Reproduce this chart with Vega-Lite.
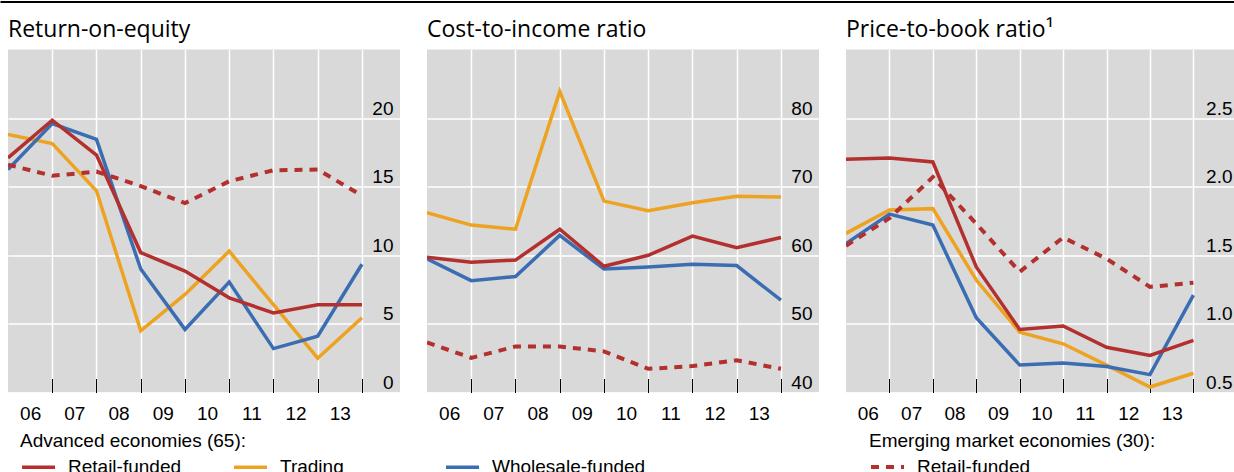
{
  "$schema": "https://vega.github.io/schema/vega-lite/v6.json",
  "padding": {"left": 0, "top": 1.5, "right": 0, "bottom": 0},
  "background": "white",
  "data": {"values": [
    {"p":"roe","g":"AE","s":"Trading","t":0,"v":18.8},{"p":"roe","g":"AE","s":"Trading","t":1,"v":18.15},{"p":"roe","g":"AE","s":"Trading","t":2,"v":14.7},{"p":"roe","g":"AE","s":"Trading","t":3,"v":4.5},{"p":"roe","g":"AE","s":"Trading","t":4,"v":7.15},{"p":"roe","g":"AE","s":"Trading","t":5,"v":10.3},{"p":"roe","g":"AE","s":"Trading","t":6,"v":6.4},{"p":"roe","g":"AE","s":"Trading","t":7,"v":2.5},{"p":"roe","g":"AE","s":"Trading","t":8,"v":5.45},
    {"p":"roe","g":"AE","s":"Wholesale-funded","t":0,"v":16.25},{"p":"roe","g":"AE","s":"Wholesale-funded","t":1,"v":19.6},{"p":"roe","g":"AE","s":"Wholesale-funded","t":2,"v":18.45},{"p":"roe","g":"AE","s":"Wholesale-funded","t":3,"v":9.0},{"p":"roe","g":"AE","s":"Wholesale-funded","t":4,"v":4.6},{"p":"roe","g":"AE","s":"Wholesale-funded","t":5,"v":8.05},{"p":"roe","g":"AE","s":"Wholesale-funded","t":6,"v":3.2},{"p":"roe","g":"AE","s":"Wholesale-funded","t":7,"v":4.1},{"p":"roe","g":"AE","s":"Wholesale-funded","t":8,"v":9.35},
    {"p":"roe","g":"AE","s":"Retail-funded","t":0,"v":17.1},{"p":"roe","g":"AE","s":"Retail-funded","t":1,"v":19.85},{"p":"roe","g":"AE","s":"Retail-funded","t":2,"v":17.3},{"p":"roe","g":"AE","s":"Retail-funded","t":3,"v":10.2},{"p":"roe","g":"AE","s":"Retail-funded","t":4,"v":8.85},{"p":"roe","g":"AE","s":"Retail-funded","t":5,"v":6.9},{"p":"roe","g":"AE","s":"Retail-funded","t":6,"v":5.8},{"p":"roe","g":"AE","s":"Retail-funded","t":7,"v":6.4},{"p":"roe","g":"AE","s":"Retail-funded","t":8,"v":6.4},
    {"p":"roe","g":"EM","s":"Retail-funded","t":0,"v":16.6},{"p":"roe","g":"EM","s":"Retail-funded","t":1,"v":15.8},{"p":"roe","g":"EM","s":"Retail-funded","t":2,"v":16.1},{"p":"roe","g":"EM","s":"Retail-funded","t":3,"v":15.05},{"p":"roe","g":"EM","s":"Retail-funded","t":4,"v":13.8},{"p":"roe","g":"EM","s":"Retail-funded","t":5,"v":15.4},{"p":"roe","g":"EM","s":"Retail-funded","t":6,"v":16.2},{"p":"roe","g":"EM","s":"Retail-funded","t":7,"v":16.25},{"p":"roe","g":"EM","s":"Retail-funded","t":8,"v":14.35},
    {"p":"cir","g":"AE","s":"Trading","t":0,"v":66.2},{"p":"cir","g":"AE","s":"Trading","t":1,"v":64.4},{"p":"cir","g":"AE","s":"Trading","t":2,"v":63.8},{"p":"cir","g":"AE","s":"Trading","t":3,"v":83.9},{"p":"cir","g":"AE","s":"Trading","t":4,"v":67.9},{"p":"cir","g":"AE","s":"Trading","t":5,"v":66.5},{"p":"cir","g":"AE","s":"Trading","t":6,"v":67.65},{"p":"cir","g":"AE","s":"Trading","t":7,"v":68.6},{"p":"cir","g":"AE","s":"Trading","t":8,"v":68.5},
    {"p":"cir","g":"AE","s":"Wholesale-funded","t":0,"v":59.5},{"p":"cir","g":"AE","s":"Wholesale-funded","t":1,"v":56.3},{"p":"cir","g":"AE","s":"Wholesale-funded","t":2,"v":56.9},{"p":"cir","g":"AE","s":"Wholesale-funded","t":3,"v":62.9},{"p":"cir","g":"AE","s":"Wholesale-funded","t":4,"v":58.0},{"p":"cir","g":"AE","s":"Wholesale-funded","t":5,"v":58.3},{"p":"cir","g":"AE","s":"Wholesale-funded","t":6,"v":58.7},{"p":"cir","g":"AE","s":"Wholesale-funded","t":7,"v":58.5},{"p":"cir","g":"AE","s":"Wholesale-funded","t":8,"v":53.45},
    {"p":"cir","g":"AE","s":"Retail-funded","t":0,"v":59.7},{"p":"cir","g":"AE","s":"Retail-funded","t":1,"v":59.0},{"p":"cir","g":"AE","s":"Retail-funded","t":2,"v":59.3},{"p":"cir","g":"AE","s":"Retail-funded","t":3,"v":63.8},{"p":"cir","g":"AE","s":"Retail-funded","t":4,"v":58.4},{"p":"cir","g":"AE","s":"Retail-funded","t":5,"v":60.0},{"p":"cir","g":"AE","s":"Retail-funded","t":6,"v":62.8},{"p":"cir","g":"AE","s":"Retail-funded","t":7,"v":61.1},{"p":"cir","g":"AE","s":"Retail-funded","t":8,"v":62.6},
    {"p":"cir","g":"EM","s":"Retail-funded","t":0,"v":47.3},{"p":"cir","g":"EM","s":"Retail-funded","t":1,"v":45.05},{"p":"cir","g":"EM","s":"Retail-funded","t":2,"v":46.7},{"p":"cir","g":"EM","s":"Retail-funded","t":3,"v":46.7},{"p":"cir","g":"EM","s":"Retail-funded","t":4,"v":46.0},{"p":"cir","g":"EM","s":"Retail-funded","t":5,"v":43.45},{"p":"cir","g":"EM","s":"Retail-funded","t":6,"v":43.85},{"p":"cir","g":"EM","s":"Retail-funded","t":7,"v":44.7},{"p":"cir","g":"EM","s":"Retail-funded","t":8,"v":43.45},
    {"p":"pbr","g":"AE","s":"Trading","t":0,"v":1.66},{"p":"pbr","g":"AE","s":"Trading","t":1,"v":1.83},{"p":"pbr","g":"AE","s":"Trading","t":2,"v":1.84},{"p":"pbr","g":"AE","s":"Trading","t":3,"v":1.32},{"p":"pbr","g":"AE","s":"Trading","t":4,"v":0.94},{"p":"pbr","g":"AE","s":"Trading","t":5,"v":0.855},{"p":"pbr","g":"AE","s":"Trading","t":6,"v":0.70},{"p":"pbr","g":"AE","s":"Trading","t":7,"v":0.54},{"p":"pbr","g":"AE","s":"Trading","t":8,"v":0.64},
    {"p":"pbr","g":"AE","s":"Wholesale-funded","t":0,"v":1.585},{"p":"pbr","g":"AE","s":"Wholesale-funded","t":1,"v":1.80},{"p":"pbr","g":"AE","s":"Wholesale-funded","t":2,"v":1.72},{"p":"pbr","g":"AE","s":"Wholesale-funded","t":3,"v":1.045},{"p":"pbr","g":"AE","s":"Wholesale-funded","t":4,"v":0.70},{"p":"pbr","g":"AE","s":"Wholesale-funded","t":5,"v":0.715},{"p":"pbr","g":"AE","s":"Wholesale-funded","t":6,"v":0.69},{"p":"pbr","g":"AE","s":"Wholesale-funded","t":7,"v":0.63},{"p":"pbr","g":"AE","s":"Wholesale-funded","t":8,"v":1.21},
    {"p":"pbr","g":"AE","s":"Retail-funded","t":0,"v":2.2},{"p":"pbr","g":"AE","s":"Retail-funded","t":1,"v":2.21},{"p":"pbr","g":"AE","s":"Retail-funded","t":2,"v":2.18},{"p":"pbr","g":"AE","s":"Retail-funded","t":3,"v":1.415},{"p":"pbr","g":"AE","s":"Retail-funded","t":4,"v":0.96},{"p":"pbr","g":"AE","s":"Retail-funded","t":5,"v":0.985},{"p":"pbr","g":"AE","s":"Retail-funded","t":6,"v":0.83},{"p":"pbr","g":"AE","s":"Retail-funded","t":7,"v":0.77},{"p":"pbr","g":"AE","s":"Retail-funded","t":8,"v":0.88},
    {"p":"pbr","g":"EM","s":"Retail-funded","t":0,"v":1.57},{"p":"pbr","g":"EM","s":"Retail-funded","t":1,"v":1.77},{"p":"pbr","g":"EM","s":"Retail-funded","t":2,"v":2.07},{"p":"pbr","g":"EM","s":"Retail-funded","t":3,"v":1.73},{"p":"pbr","g":"EM","s":"Retail-funded","t":4,"v":1.38},{"p":"pbr","g":"EM","s":"Retail-funded","t":5,"v":1.63},{"p":"pbr","g":"EM","s":"Retail-funded","t":6,"v":1.475},{"p":"pbr","g":"EM","s":"Retail-funded","t":7,"v":1.27},{"p":"pbr","g":"EM","s":"Retail-funded","t":8,"v":1.30}
  ]},
  "config": {
    "view": {"stroke": null},
    "font": "Liberation Sans",
    "title": {"font": "Open Sans", "fontSize": 23, "fontWeight": "normal", "anchor": "start", "color": "black", "baseline": "alphabetic", "offset": 8},
    "axis": {"labelFont": "Liberation Sans", "labelFontSize": 19, "labelColor": "black"},
    "legend": {"orient": "none", "symbolType": "stroke", "symbolSize": 1089, "symbolStrokeWidth": 3.5, "labelOffset": 11, "labelFont": "Liberation Sans", "labelFontSize": 19, "labelColor": "black", "titleFont": "Liberation Sans", "titleFontSize": 19, "titleFontWeight": "normal", "titleColor": "black", "titlePadding": -2, "labelLimit": 400, "titleLimit": 600, "padding": 0}
  },
  "spacing": 16,
  "center": true,
  "vconcat": [
    {
      "width": 1247, "height": 1,
      "transform": [{"filter": "false"}],
      "mark": {"type": "point"},
      "encoding": {
        "x": {"field": "t", "type": "quantitative", "scale": {"domain": [0, 9]}, "axis": {"orient": "top", "domain": true, "domainColor": "black", "domainWidth": 2, "ticks": false, "labels": false, "grid": false, "title": null}}
      }
    },
    {
      "spacing": 27,
      "hconcat": [
        {
          "width": 392, "height": 343,
          "title": "Return-on-equity",
          "view": {"fill": "#d9d9d9", "stroke": null},
          "transform": [{"filter": "datum.p === 'roe'"}],
          "encoding": {
            "x": {"field": "t", "type": "quantitative", "scale": {"domain": [0, 8.86], "nice": false, "zero": false},
              "axis": {"values": [0.5,1,1.5,2,2.5,3,3.5,4,4.5,5,5.5,6,6.5,7,7.5,8], "labelExpr": "datum.value % 1 ? ['06','07','08','09','10','11','12','13'][floor(datum.value)] : ''", "title": null, "domain": false, "grid": true, "gridColor": "white", "gridWidth": 1.5, "gridOpacity": {"condition": {"test": "datum.value % 1 === 0", "value": 1}, "value": 0}, "ticks": true, "tickColor": "black", "tickWidth": 1, "tickSize": -14, "tickOpacity": {"condition": {"test": "datum.value % 1 === 0", "value": 1}, "value": 0}, "labelPadding": 26, "labelFlush": false, "labelOverlap": false}},
            "y": {"field": "v", "type": "quantitative", "scale": {"domain": [0, 25], "nice": false, "zero": false},
              "axis": {"orient": "right", "values": [0,5,10,15,20], "title": null, "domain": false, "ticks": false, "grid": true, "gridColor": "white", "gridWidth": 1.5, "labelAlign": "right", "labelBaseline": "bottom", "labelPadding": -7, "labelFlush": false, "labelOverlap": false}}
          },
          "layer": [
            {"transform": [{"filter": "datum.g === 'AE'"}], "mark": {"type": "line", "strokeWidth": 3.5, "clip": true},
              "encoding": {"color": {"field": "s", "type": "nominal", "scale": {"domain": ["Retail-funded", "Trading", "Wholesale-funded"], "range": ["#b2302e", "#eda321", "#3b6db3"]}, "legend": {"title": "Advanced economies (65):", "legendX": 20, "legendY": 430, "direction": "horizontal", "columns": 3, "gridAlign": "all", "columnPadding": 5}}}},
            {"transform": [{"filter": "datum.g === 'EM'"}], "mark": {"type": "line", "strokeWidth": 4, "color": "#b2302e", "clip": true},
              "encoding": {"strokeDash": {"field": "s", "type": "nominal", "scale": {"domain": ["Retail-funded"], "range": [[8, 7]]}, "legend": {"title": "Emerging market economies (30):", "legendX": 869, "legendY": 430, "direction": "horizontal", "symbolStrokeColor": "#b2302e", "symbolStrokeWidth": 4}}}}
          ]
        },
        {
          "width": 392, "height": 343,
          "title": "Cost-to-income ratio",
          "view": {"fill": "#d9d9d9", "stroke": null},
          "transform": [{"filter": "datum.p === 'cir'"}],
          "encoding": {
            "x": {"field": "t", "type": "quantitative", "scale": {"domain": [0, 8.86], "nice": false, "zero": false},
              "axis": {"values": [0.5,1,1.5,2,2.5,3,3.5,4,4.5,5,5.5,6,6.5,7,7.5,8], "labelExpr": "datum.value % 1 ? ['06','07','08','09','10','11','12','13'][floor(datum.value)] : ''", "title": null, "domain": false, "grid": true, "gridColor": "white", "gridWidth": 1.5, "gridOpacity": {"condition": {"test": "datum.value % 1 === 0", "value": 1}, "value": 0}, "ticks": true, "tickColor": "black", "tickWidth": 1, "tickSize": -14, "tickOpacity": {"condition": {"test": "datum.value % 1 === 0", "value": 1}, "value": 0}, "labelPadding": 26, "labelFlush": false, "labelOverlap": false}},
            "y": {"field": "v", "type": "quantitative", "scale": {"domain": [40, 90], "nice": false, "zero": false},
              "axis": {"orient": "right", "values": [40,50,60,70,80], "title": null, "domain": false, "ticks": false, "grid": true, "gridColor": "white", "gridWidth": 1.5, "labelAlign": "right", "labelBaseline": "bottom", "labelPadding": -7, "labelFlush": false, "labelOverlap": false}}
          },
          "layer": [
            {"transform": [{"filter": "datum.g === 'AE'"}], "mark": {"type": "line", "strokeWidth": 3.5, "clip": true},
              "encoding": {"color": {"field": "s", "type": "nominal", "scale": {"domain": ["Retail-funded", "Trading", "Wholesale-funded"], "range": ["#b2302e", "#eda321", "#3b6db3"]}, "legend": {"title": "Advanced economies (65):", "legendX": 20, "legendY": 430, "direction": "horizontal", "columns": 3, "gridAlign": "all", "columnPadding": 5}}}},
            {"transform": [{"filter": "datum.g === 'EM'"}], "mark": {"type": "line", "strokeWidth": 4, "color": "#b2302e", "clip": true},
              "encoding": {"strokeDash": {"field": "s", "type": "nominal", "scale": {"domain": ["Retail-funded"], "range": [[8, 7]]}, "legend": {"title": "Emerging market economies (30):", "legendX": 869, "legendY": 430, "direction": "horizontal", "symbolStrokeColor": "#b2302e", "symbolStrokeWidth": 4}}}}
          ]
        },
        {
          "width": 393, "height": 343,
          "title": "Price-to-book ratio¹",
          "view": {"fill": "#d9d9d9", "stroke": null},
          "transform": [{"filter": "datum.p === 'pbr'"}],
          "encoding": {
            "x": {"field": "t", "type": "quantitative", "scale": {"domain": [0, 9.05], "nice": false, "zero": false},
              "axis": {"values": [0.5,1,1.5,2,2.5,3,3.5,4,4.5,5,5.5,6,6.5,7,7.5,8], "labelExpr": "datum.value % 1 ? ['06','07','08','09','10','11','12','13'][floor(datum.value)] : ''", "title": null, "domain": false, "grid": true, "gridColor": "white", "gridWidth": 1.5, "gridOpacity": {"condition": {"test": "datum.value % 1 === 0", "value": 1}, "value": 0}, "ticks": true, "tickColor": "black", "tickWidth": 1, "tickSize": -14, "tickOpacity": {"condition": {"test": "datum.value % 1 === 0", "value": 1}, "value": 0}, "labelPadding": 26, "labelFlush": false, "labelOverlap": false}},
            "y": {"field": "v", "type": "quantitative", "scale": {"domain": [0.5, 3.0], "nice": false, "zero": false},
              "axis": {"orient": "right", "values": [0.5,1,1.5,2,2.5], "format": ".1f", "title": null, "domain": false, "ticks": false, "grid": true, "gridColor": "white", "gridWidth": 1.5, "labelAlign": "right", "labelBaseline": "bottom", "labelPadding": -7, "labelFlush": false, "labelOverlap": false}}
          },
          "layer": [
            {"transform": [{"filter": "datum.g === 'AE'"}], "mark": {"type": "line", "strokeWidth": 3.5, "clip": true},
              "encoding": {"color": {"field": "s", "type": "nominal", "scale": {"domain": ["Retail-funded", "Trading", "Wholesale-funded"], "range": ["#b2302e", "#eda321", "#3b6db3"]}, "legend": {"title": "Advanced economies (65):", "legendX": 20, "legendY": 430, "direction": "horizontal", "columns": 3, "gridAlign": "all", "columnPadding": 5}}}},
            {"transform": [{"filter": "datum.g === 'EM'"}], "mark": {"type": "line", "strokeWidth": 4, "color": "#b2302e", "clip": true},
              "encoding": {"strokeDash": {"field": "s", "type": "nominal", "scale": {"domain": ["Retail-funded"], "range": [[8, 7]]}, "legend": {"title": "Emerging market economies (30):", "legendX": 869, "legendY": 430, "direction": "horizontal", "symbolStrokeColor": "#b2302e", "symbolStrokeWidth": 4}}}}
          ]
        }
      ]
    }
  ]
}
